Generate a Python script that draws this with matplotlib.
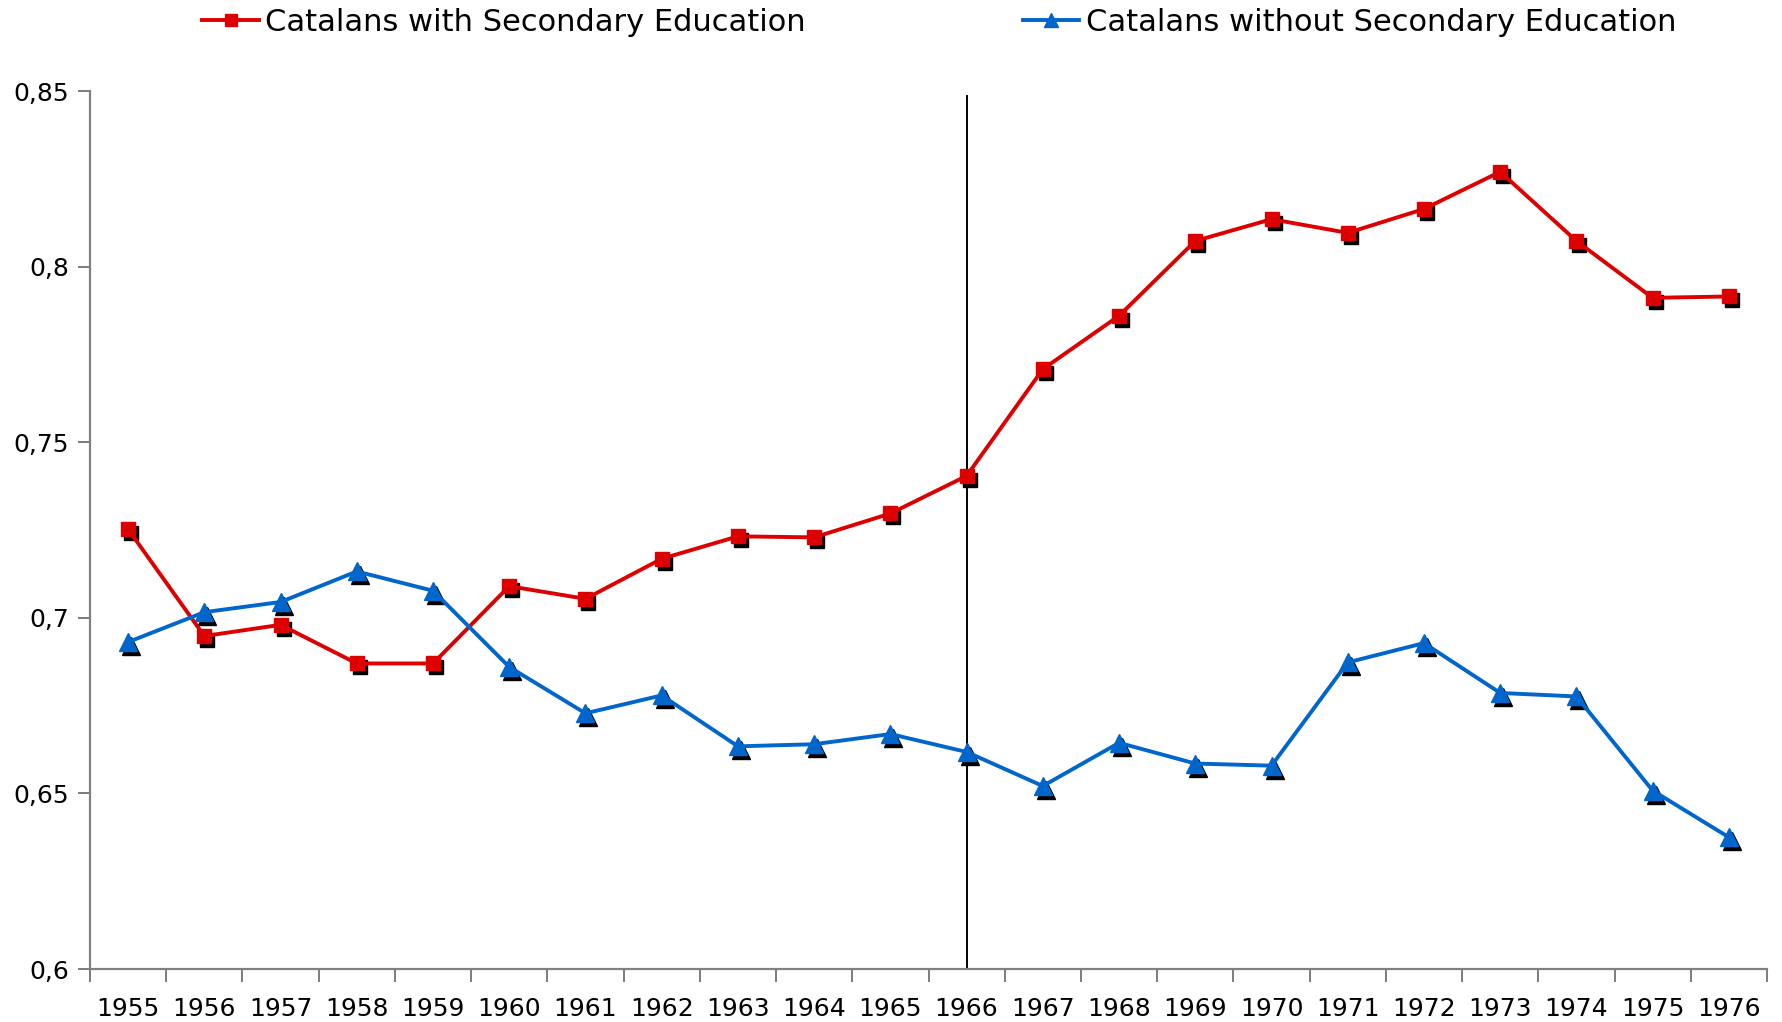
import matplotlib
matplotlib.use("Agg")
import matplotlib.pyplot as plt
import matplotlib.transforms as mtransforms
from matplotlib.ticker import FixedLocator, FuncFormatter

years = [str(y) for y in range(1955, 1977)]
with_secondary = [0.7252, 0.6948, 0.6980, 0.6870, 0.6870, 0.7090, 0.7054, 0.7168,
                  0.7232, 0.7229, 0.7297, 0.7404, 0.7708, 0.7860, 0.8073, 0.8135,
                  0.8096, 0.8164, 0.8270, 0.8073, 0.7911, 0.7915]
without_secondary = [0.6931, 0.7016, 0.7045, 0.7132, 0.7077, 0.6860, 0.6728, 0.6779,
                     0.6634, 0.6640, 0.6669, 0.6618, 0.6521, 0.6644, 0.6585, 0.6579,
                     0.6873, 0.6928, 0.6786, 0.6776, 0.6508, 0.6375]
yticks = [0.6, 0.65, 0.7, 0.75, 0.8, 0.85]
label_with = "Catalans with Secondary Education"
label_without = "Catalans without Secondary Education"
marker_year = "1966"

RED = "#DD0000"
BLUE = "#0066CC"

plt.rcParams['font.family'] = ['DejaVu Sans']

fig = plt.figure(figsize=(17.82, 10.22), dpi=100)
ax = fig.add_axes([90/1782, 1-969/1022, (1767-90)/1782, (969-91)/1022])

x = list(range(len(years)))
shadow = mtransforms.offset_copy(ax.transData, fig=fig, x=3, y=-4, units='dots')

# vertical marker line
xi = years.index(marker_year)
ax.axvline(xi, ymin=0, ymax=0.994, color='black', lw=1.4, zorder=1)

# shadows
ax.plot(x, with_secondary, ls='none', marker='s', ms=10.5, color='black', transform=shadow, zorder=2)
ax.plot(x, without_secondary, ls='none', marker='^', ms=12.5, color='black', transform=shadow, zorder=2)

ax.plot(x, with_secondary, color=RED, lw=2.8, marker='s', ms=10.5, mec=RED, zorder=3, label=label_with)
ax.plot(x, without_secondary, color=BLUE, lw=2.8, marker='^', ms=12.5, mec=BLUE, zorder=3, label=label_without)

ax.set_xlim(-0.5, len(years) - 0.5)
ax.set_ylim(0.6, 0.85)

ax.set_xticks(x)
ax.set_xticklabels(years)
ax.xaxis.set_minor_locator(FixedLocator([i - 0.5 for i in range(len(years) + 1)]))
ax.tick_params(axis='x', which='major', length=0, pad=20, labelsize=18)
ax.tick_params(axis='x', which='minor', length=9, width=1.2, color='#666666', direction='out')

ax.set_yticks(yticks)
ax.yaxis.set_major_formatter(FuncFormatter(lambda v, p: ('%g' % v).replace('.', ',')))
ax.tick_params(axis='y', length=9, width=1.2, color='#666666', labelsize=18, pad=6)

for s in ['top', 'right']:
    ax.spines[s].set_visible(False)
for s in ['left', 'bottom']:
    ax.spines[s].set_color('#808080')
    ax.spines[s].set_linewidth(1.6)

handles, labels = ax.get_legend_handles_labels()
fig.legend(handles, labels, loc='center', bbox_to_anchor=(0.527, 1 - 22/1022), ncol=2,
           frameon=False, fontsize=22, handlelength=1.86, handletextpad=0.2,
           columnspacing=7.1, markerscale=0.85)

fig.savefig("out.png", dpi=100, facecolor='white')
